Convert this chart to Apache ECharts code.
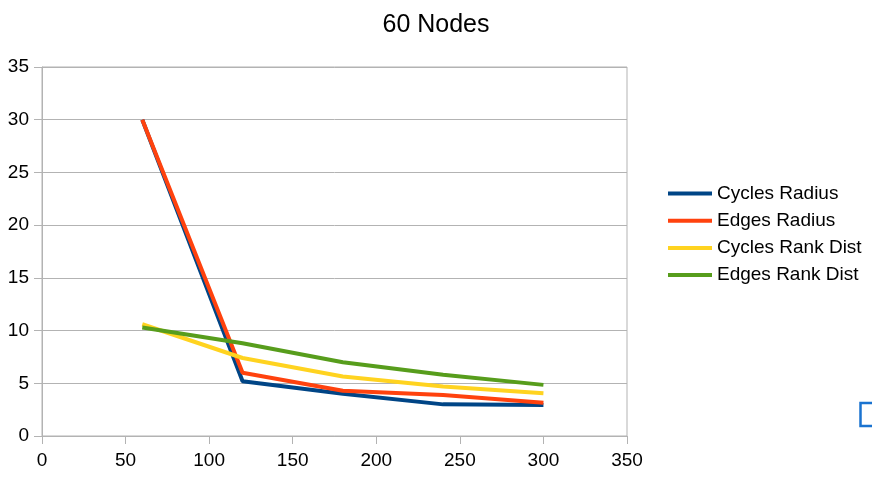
<!DOCTYPE html>
<html>
<head>
<meta charset="utf-8">
<script src="https://cdn.jsdelivr.net/npm/echarts@6/dist/echarts.min.js"></script>
<style>html,body{margin:0;padding:0;background:#fff;}#c{width:872px;height:477px;}</style>
</head>
<body>
<div id="c"></div>
<script>
const xValues = [60, 120, 180, 240, 300];
const cyclesRadius = [30, 5.2, 4.0, 3.0, 2.95];
const edgesRadius = [30, 6.0, 4.3, 3.9, 3.15];
const cyclesRankDist = [10.6, 7.4, 5.65, 4.7, 4.05];
const edgesRankDist = [10.3, 8.8, 7.0, 5.8, 4.85];
const seriesNames = ['Cycles Radius', 'Edges Radius', 'Cycles Rank Dist', 'Edges Rank Dist'];
const seriesColors = ['#004586', '#ff420e', '#ffd320', '#579d1c'];
const seriesData = [cyclesRadius, edgesRadius, cyclesRankDist, edgesRankDist];

const chart = echarts.init(document.getElementById('c'));
const font = 'Liberation Sans, Arial, sans-serif';
chart.setOption({
  animation: false,
  title: {
    text: '60 Nodes', left: 'center', top: 8,
    textStyle: { fontFamily: font, fontSize: 25, fontWeight: 'normal', color: '#000' }
  },
  grid: { left: 42, right: 245, top: 67, bottom: 41, show: true, borderColor: '#b3b3b3', borderWidth: 1 },
  legend: {
    orient: 'vertical', left: 663, top: 179, itemGap: 8.2,
    itemWidth: 44, itemHeight: 4, icon: 'rect',
    textStyle: { fontFamily: font, fontSize: 19, color: '#000' },
    data: seriesNames
  },
  xAxis: {
    type: 'value', min: 0, max: 350, interval: 50,
    axisLine: { show: true, lineStyle: { color: '#b3b3b3' } },
    axisTick: { show: true, length: 8, lineStyle: { color: '#b3b3b3' } },
    axisLabel: { fontFamily: font, fontSize: 19, color: '#000', margin: 15 },
    splitLine: { show: false }
  },
  yAxis: {
    type: 'value', min: 0, max: 35, interval: 5,
    axisLine: { show: true, lineStyle: { color: '#b3b3b3' } },
    axisTick: { show: true, length: 8, lineStyle: { color: '#b3b3b3' } },
    axisLabel: { fontFamily: font, fontSize: 19, color: '#000', margin: 13 },
    splitLine: { show: true, lineStyle: { color: '#b3b3b3' } }
  },
  series: seriesNames.map((n, i) => ({
    name: n, type: 'line', showSymbol: false, symbol: 'none',
    data: xValues.map((x, j) => [x, seriesData[i][j]]),
    lineStyle: { width: 4, color: seriesColors[i] },
    itemStyle: { color: seriesColors[i] }
  })),
  graphic: [{
    type: 'polyline',
    shape: { points: [[872, 403], [860.5, 403], [860.5, 426], [872, 426]] },
    style: { stroke: '#1a73d0', lineWidth: 2.5, fill: null }
  }]
});
</script>
</body>
</html>
